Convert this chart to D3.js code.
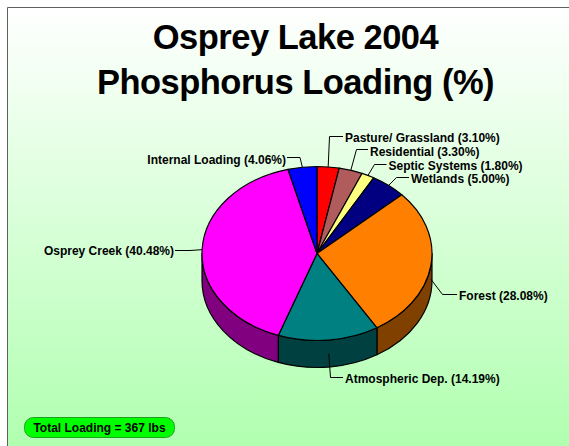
<!DOCTYPE html>
<html>

<head>
    <meta charset="utf-8" />
    <title>Osprey Lake 2004</title>
    <script src="https://d3js.org/d3.v7.min.js"></script>
    <style>
        html, body { margin: 0; padding: 0; background: #fff; overflow: hidden; }
        svg { display: block; }
        text { font-family: "Liberation Sans", Arial, sans-serif; font-weight: bold; fill: #000; }
    </style>
</head>

<body>
    <div id="chart"></div>
    <script>
        const categories = ["Pasture/ Grassland", "Residential", "Septic Systems", "Wetlands", "Forest", "Atmospheric Dep.", "Osprey Creek", "Internal Loading"];
        const values = [3.10, 3.30, 1.80, 5.00, 28.08, 14.19, 40.48, 4.06];
        const valueLabels = ["3.10%", "3.30%", "1.80%", "5.00%", "28.08%", "14.19%", "40.48%", "4.06%"];
        const titleLines = ["Osprey Lake 2004", "Phosphorus Loading (%)"];
        const totalLabel = "Total Loading = 367 lbs";

        const topColors = ["#ff0000", "#b05c5c", "#ffff80", "#000080", "#ff8000", "#008080", "#ff00ff", "#0000ff"];
        const sideColors = ["#800000", "#582e2e", "#808040", "#000040", "#804000", "#004040", "#800080", "#000080"];

        // leader elbow + text start and baseline for each label, in page pixels
        const labelLayout = [
            { ex: 329.5, ey: 136.5, tx: 345, ty: 142 },
            { ex: 356.5, ey: 149.5, tx: 370, ty: 156 },
            { ex: 374.5, ey: 164.5, tx: 388.5, ty: 170 },
            { ex: 396.5, ey: 177.5, tx: 411, ty: 183 },
            { ex: 442.5, ey: 294.5, tx: 459, ty: 300 },
            { ex: 330.5, ey: 377.5, tx: 345, ty: 383 },
            { ex: 190, ey: 250.5, tx: 174, ty: 255 },
            { ex: 300, ey: 157.5, tx: 286, ty: 163.5 },
        ];

        const width = 569;
        const height = 446;
        const cx = 317, cy = 253.5, rx = 115, ry = 87, depth = 27;

        const svg = d3.select("#chart").append("svg")
            .attr("width", width)
            .attr("height", height);

        const grad = svg.append("defs").append("linearGradient")
            .attr("id", "bg")
            .attr("x1", 0).attr("y1", 0).attr("x2", 0).attr("y2", 1);
        grad.append("stop").attr("offset", "0%").attr("stop-color", "#ffffff");
        grad.append("stop").attr("offset", "100%").attr("stop-color", "#b0ffb0");

        svg.append("rect")
            .attr("x", 7).attr("y", 7)
            .attr("width", width - 7).attr("height", height - 7)
            .attr("fill", "url(#bg)");
        svg.append("path")
            .attr("d", `M7.5,${height}V7.5H${width}`)
            .attr("fill", "none")
            .attr("stroke", "#606060");

        svg.selectAll(".title")
            .data(titleLines)
            .enter()
            .append("text")
            .attr("class", "title")
            .attr("x", 295.5)
            .attr("y", (d, i) => 48.5 + i * 45.5)
            .attr("text-anchor", "middle")
            .style("font-size", "34.5px")
            .style("letter-spacing", "-0.5px")
            .text((d) => d);

        const pie = d3.pie().sort(null).value((d) => d);
        const arcs = pie(values);

        // angle -> point on the ellipse, 0 at the top, clockwise
        const px = (a) => cx + rx * Math.sin(a);
        const py = (a) => cy - ry * Math.cos(a);

        // side wall first, only the front half of the rim shows
        const front = arcs
            .map((d, i) => ({
                a0: Math.max(d.startAngle, Math.PI / 2),
                a1: Math.min(d.endAngle, Math.PI * 1.5),
                i: i,
            }))
            .filter((d) => d.a1 > d.a0);

        svg.selectAll(".side")
            .data(front)
            .enter()
            .append("path")
            .attr("class", "side")
            .attr("d", (d) =>
                `M${px(d.a0)},${py(d.a0)}` +
                `A${rx},${ry} 0 0 1 ${px(d.a1)},${py(d.a1)}` +
                `L${px(d.a1)},${py(d.a1) + depth}` +
                `A${rx},${ry} 0 0 0 ${px(d.a0)},${py(d.a0) + depth}Z`)
            .attr("fill", (d) => sideColors[d.i])
            .attr("stroke", "#000")
            .attr("stroke-width", 1.2)
            .attr("stroke-linejoin", "round");

        const arc = d3.arc().innerRadius(0).outerRadius(rx);

        svg.append("g")
            .attr("transform", `translate(${cx},${cy}) scale(1,${ry / rx})`)
            .selectAll(".slice")
            .data(arcs)
            .enter()
            .append("path")
            .attr("class", "slice")
            .attr("d", arc)
            .attr("fill", (d, i) => topColors[i])
            .attr("stroke", "#000")
            .attr("stroke-width", 1.2)
            .attr("stroke-linejoin", "round")
            .attr("vector-effect", "non-scaling-stroke");

        // leaders start at the slice middle, half way down the wall when it is in front
        const startOf = (d) => {
            const a = (d.startAngle + d.endAngle) / 2;
            const inFront = Math.cos(a) < 0;
            return [px(a), py(a) + (inFront ? depth / 2 : 0)];
        };

        const labels = svg.selectAll(".label")
            .data(arcs)
            .enter()
            .append("g")
            .attr("class", "label");

        labels.append("polyline")
            .attr("points", (d, i) => {
                const s = startOf(d);
                const l = labelLayout[i];
                return [s, [l.ex, l.ey], [l.tx + (i > 5 ? 1 : -2), l.ey]].map((p) => p.join(",")).join(" ");
            })
            .attr("fill", "none")
            .attr("stroke", "#000")
            .attr("stroke-width", 1);

        labels.append("text")
            .attr("x", (d, i) => labelLayout[i].tx)
            .attr("y", (d, i) => labelLayout[i].ty)
            .attr("text-anchor", (d, i) => (i > 5 ? "end" : "start"))
            .style("font-size", "12px")
            .text((d, i) => categories[i] + " (" + valueLabels[i] + ")");

        svg.append("rect")
            .attr("x", 24.5).attr("y", 417.5)
            .attr("width", 150).attr("height", 20)
            .attr("rx", 9)
            .attr("fill", "#00ff00")
            .attr("stroke", "#20a020");
        svg.append("text")
            .attr("x", 99.5).attr("y", 431.5)
            .attr("text-anchor", "middle")
            .style("font-size", "12px")
            .text(totalLabel);
    </script>
</body>

</html>
